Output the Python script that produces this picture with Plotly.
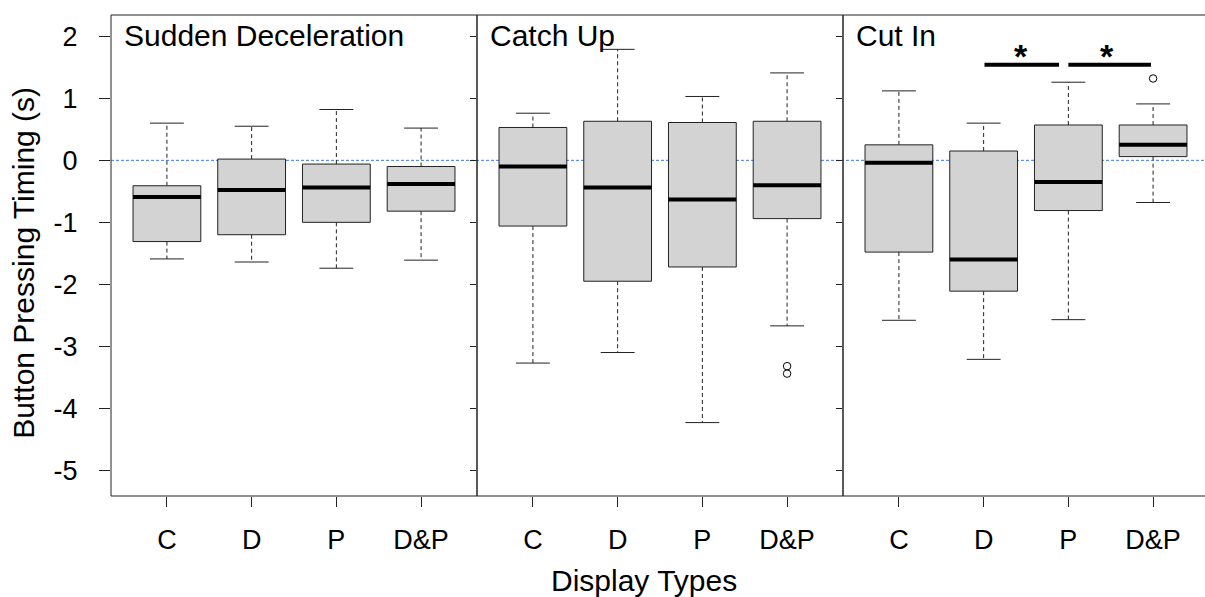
import plotly.graph_objects as go

# ---------------- data ----------------
panels = ["Sudden Deceleration", "Catch Up", "Cut In"]
categories = ["C", "D", "P", "D&P"]

# per panel, per category: lower whisker, q1, median, q3, upper whisker
sd_lower = [-1.59, -1.64, -1.74, -1.61]
sd_q1 = [-1.31, -1.20, -1.00, -0.82]
sd_median = [-0.59, -0.48, -0.44, -0.38]
sd_q3 = [-0.41, 0.02, -0.06, -0.10]
sd_upper = [0.60, 0.55, 0.82, 0.52]

cu_lower = [-3.27, -3.10, -4.23, -2.67]
cu_q1 = [-1.06, -1.95, -1.72, -0.94]
cu_median = [-0.10, -0.44, -0.63, -0.40]
cu_q3 = [0.53, 0.63, 0.61, 0.63]
cu_upper = [0.76, 1.79, 1.03, 1.41]

ci_lower = [-2.58, -3.21, -2.57, -0.68]
ci_q1 = [-1.48, -2.11, -0.81, 0.06]
ci_median = [-0.04, -1.60, -0.35, 0.25]
ci_q3 = [0.25, 0.15, 0.57, 0.57]
ci_upper = [1.12, 0.60, 1.26, 0.91]

# outliers: (category index 1-based, value)
sd_out_x, sd_out_y = [], []
cu_out_x, cu_out_y = [4, 4], [-3.32, -3.44]
ci_out_x, ci_out_y = [4], [1.32]

# significance bars in "Cut In" panel
sig_x0 = [2.01, 3.00]
sig_x1 = [2.89, 3.975]
sig_y = [1.54, 1.54]
sig_star_x = [2.44, 3.46]
sig_label = ["*", "*"]

y_tickvals = [2, 1, 0, -1, -2, -3, -4, -5]
y_ticktext = ["2", "1", "0", "-1", "-2", "-3", "-4", "-5"]
y_range = [-5.414, 2.344]
ref_line_y = 0

x_title = "Display Types"
y_title = "Button Pressing Timing (s)"

panel_data = [
    (sd_lower, sd_q1, sd_median, sd_q3, sd_upper, sd_out_x, sd_out_y),
    (cu_lower, cu_q1, cu_median, cu_q3, cu_upper, cu_out_x, cu_out_y),
    (ci_lower, ci_q1, ci_median, ci_q3, ci_upper, ci_out_x, ci_out_y),
]

# ---------------- layout geometry ----------------
W, H = 1205, 597
ML, MR, MT, MB = 111, 0, 15, 101
plot_w = W - ML - MR
panel_px = 366
d1 = panel_px / plot_w
d2 = 2 * panel_px / plot_w
domains = [[0, d1], [d1, d2], [d2, 1]]
px_per_unit = panel_px / 4.32
x_ranges = [[0.34, 4.66], [0.34, 4.66],
            [0.34, 0.34 + (plot_w - 2 * panel_px) / px_per_unit]]

FONT = "Liberation Sans, Arial, Helvetica, sans-serif"
EDGE = "#222222"
BOXFILL = "#d3d3d3"
HALF_BOX = 0.4
HALF_CAP = 0.2

fig = go.Figure()

for p, (lo, q1, med, q3, up, ox, oy) in enumerate(panel_data):
    xa = "x" if p == 0 else f"x{p+1}"
    ya = "y" if p == 0 else f"y{p+1}"
    for i in range(len(categories)):
        c = i + 1
        # whiskers (dashed)
        fig.add_trace(go.Scatter(
            x=[c, c, None, c, c], y=[q3[i], up[i], None, q1[i], lo[i]],
            mode="lines", line=dict(color=EDGE, width=1, dash="4px,3px"),
            xaxis=xa, yaxis=ya, hoverinfo="skip", showlegend=False))
        # staples
        fig.add_trace(go.Scatter(
            x=[c - HALF_CAP, c + HALF_CAP, None, c - HALF_CAP, c + HALF_CAP],
            y=[up[i], up[i], None, lo[i], lo[i]],
            mode="lines", line=dict(color=EDGE, width=1),
            xaxis=xa, yaxis=ya, hoverinfo="skip", showlegend=False))
        # box
        fig.add_trace(go.Scatter(
            x=[c - HALF_BOX, c + HALF_BOX, c + HALF_BOX, c - HALF_BOX, c - HALF_BOX],
            y=[q1[i], q1[i], q3[i], q3[i], q1[i]],
            mode="lines", fill="toself", fillcolor=BOXFILL,
            line=dict(color=EDGE, width=1),
            xaxis=xa, yaxis=ya, hoverinfo="skip", showlegend=False))
        # median
        fig.add_trace(go.Scatter(
            x=[c - HALF_BOX, c + HALF_BOX], y=[med[i], med[i]],
            mode="lines", line=dict(color="black", width=4),
            xaxis=xa, yaxis=ya, hoverinfo="skip", showlegend=False))
    if ox:
        fig.add_trace(go.Scatter(
            x=ox, y=oy, mode="markers",
            marker=dict(symbol="circle-open", size=7.5, color="black", line=dict(width=1)),
            xaxis=xa, yaxis=ya, hoverinfo="skip", showlegend=False))

# significance bars (Cut In panel)
for x0, x1, yy in zip(sig_x0, sig_x1, sig_y):
    fig.add_trace(go.Scatter(
        x=[x0, x1], y=[yy, yy], mode="lines",
        line=dict(color="black", width=4),
        xaxis="x3", yaxis="y3", hoverinfo="skip", showlegend=False))

annotations = []
for sx, sy, lab in zip(sig_star_x, sig_y, sig_label):
    annotations.append(dict(
        x=sx, y=sy, xref="x3", yref="y3", text=f"<b>{lab}</b>", showarrow=False,
        xanchor="center", yanchor="middle", yshift=9,
        font=dict(family=FONT, size=34, color="black")))

# panel titles
for p, name in enumerate(panels):
    annotations.append(dict(
        x=domains[p][0], y=1, xref="paper", yref="paper", text=name,
        showarrow=False, xanchor="left", yanchor="top", xshift=11, yshift=-2,
        font=dict(family=FONT, size=30, color="black")))

# axis titles
annotations.append(dict(
    x=(644 - ML) / plot_w, y=0, xref="paper", yref="paper", text=x_title,
    showarrow=False, xanchor="center", yanchor="middle", yshift=-84,
    font=dict(family=FONT, size=30, color="black")))
annotations.append(dict(
    x=0, y=0.485, xref="paper", yref="paper", text=y_title, textangle=-90,
    showarrow=False, xanchor="center", yanchor="middle", xshift=-87,
    font=dict(family=FONT, size=30, color="black")))

# frame + reference line
shapes = [
    dict(type="line", xref="paper", yref="y", x0=0, x1=1, y0=ref_line_y, y1=ref_line_y,
         line=dict(color="#3f78e0", width=1, dash="3px,2px"), layer="below"),
    dict(type="line", xref="paper", yref="paper", x0=0, x1=1, y0=1, y1=1,
         line=dict(color=EDGE, width=1)),
    dict(type="line", xref="paper", yref="paper", x0=0, x1=1, y0=0, y1=0,
         line=dict(color=EDGE, width=1)),
]
for p in range(3):
    shapes.append(dict(type="line", xref="paper", yref="paper",
                       x0=domains[p][0], x1=domains[p][0], y0=0, y1=1,
                       line=dict(color=EDGE, width=1.5 if p else 1)))

layout = dict(
    width=W, height=H, margin=dict(l=ML, r=MR, t=MT, b=MB),
    paper_bgcolor="white", plot_bgcolor="white",
    font=dict(family=FONT, size=27, color="black"),
    showlegend=False, annotations=annotations, shapes=shapes,
)
for p in range(3):
    xk = "xaxis" if p == 0 else f"xaxis{p+1}"
    yk = "yaxis" if p == 0 else f"yaxis{p+1}"
    xa_anchor = "y" if p == 0 else f"y{p+1}"
    ya_anchor = "x" if p == 0 else f"x{p+1}"
    layout[xk] = dict(
        domain=domains[p], range=x_ranges[p], anchor=xa_anchor,
        tickvals=list(range(1, len(categories) + 1)), ticktext=categories,
        ticks="outside", ticklen=10, tickcolor=EDGE, tickwidth=1,
        showgrid=False, zeroline=False, showline=False,
        tickfont=dict(family=FONT, size=27, color="black"), ticklabelstandoff=10,
        fixedrange=True)
    layout[yk] = dict(
        domain=[0, 1], range=y_range, anchor=ya_anchor,
        tickvals=y_tickvals, ticktext=y_ticktext,
        ticks="outside", ticklen=11 if p == 0 else 6, tickcolor=EDGE, tickwidth=1,
        showticklabels=(p == 0),
        showgrid=False, zeroline=False, showline=False,
        tickfont=dict(family=FONT, size=27, color="black"), ticklabelstandoff=16,
        fixedrange=True)

fig.update_layout(**layout)
fig.write_html(
    "out.html",
    config={"displayModeBar": False},
    post_script="document.body.style.margin='0';document.body.style.padding='0';"
                "document.documentElement.style.overflow='hidden';",
)
